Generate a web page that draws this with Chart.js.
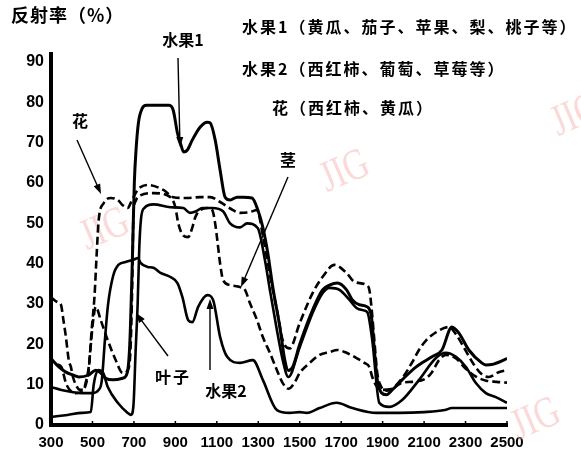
<!DOCTYPE html>
<html>
<head>
<meta charset="utf-8">
<script src="https://cdn.jsdelivr.net/npm/chart.js@4/dist/chart.umd.min.js"></script>
<style>
  html, body { margin: 0; padding: 0; background: #fff; }
  #chart { display: block; }
</style>
</head>
<body>
<canvas id="chart" width="581" height="455"></canvas>
<script>
// wavelength (nm) / reflectance (%), one pair per curve
const fruit1Nm  = [300, 338, 372, 405, 434, 482, 516, 540, 564, 598, 646, 668, 680, 692, 702, 710, 722, 740, 760, 870, 890, 910, 924, 940, 958, 982, 1020, 1054, 1068, 1092, 1116, 1140, 1164, 1198, 1226, 1270, 1298, 1322, 1346, 1370, 1404, 1428, 1445, 1466, 1500, 1562, 1610, 1644, 1682, 1726, 1754, 1788, 1826, 1846, 1860, 1874, 1894, 1918, 1946, 1994, 2062, 2138, 2186, 2234, 2268, 2316, 2378, 2398, 2426, 2484, 2500];
const fruit1Pct = [16.5, 14.4, 13.1, 12.4, 11.9, 12.4, 13.6, 12.9, 11.6, 11.2, 11.6, 13, 20, 40, 60, 68, 75, 78.5, 79.3, 79.3, 78, 72.4, 70, 67.7, 68.2, 70.7, 73.9, 75.1, 74.9, 70.7, 63.2, 56.5, 55.8, 56.5, 56.5, 56.3, 53.3, 49, 42.6, 34.2, 24.3, 16.1, 13.5, 14.4, 20, 28.5, 33.5, 34.7, 35.2, 33.5, 31, 29.8, 29.3, 26.8, 18.6, 11.2, 8, 7.5, 8.7, 11.2, 14.4, 16.9, 18.6, 24.3, 22.8, 18.6, 15.4, 14.9, 15, 16.1, 16.5];

const fruit2Nm  = [300, 350, 400, 450, 500, 530, 545, 560, 575, 600, 625, 660, 698, 720, 732, 766, 794, 828, 876, 910, 934, 962, 982, 1010, 1054, 1082, 1116, 1150, 1212, 1274, 1322, 1390, 1452, 1500, 1534, 1596, 1678, 1754, 1870, 1980, 2100, 2200, 2234, 2500];
const fruit2Pct = [9.4, 8.7, 8.2, 7.9, 7.9, 8.7, 11, 21, 29.8, 37, 39.7, 40.4, 41, 41.4, 40.2, 39.2, 39, 37.7, 36.7, 35.2, 31.7, 26, 25.5, 29.3, 32.2, 31, 21.8, 16.9, 15.4, 16.1, 11.2, 3.7, 3, 3.2, 3, 4.2, 5.5, 4.2, 3, 3, 3.2, 3.7, 4.2, 4.2];

const leafNm  = [300, 380, 450, 492, 506, 530, 550, 574, 622, 670, 686, 698, 708, 718, 726, 734, 750, 794, 876, 938, 970, 1000, 1030, 1078, 1130, 1164, 1212, 1246, 1298, 1332, 1356, 1390, 1418, 1445, 1500, 1562, 1610, 1644, 1692, 1740, 1774, 1802, 1826, 1850, 1884, 1932, 1994, 2076, 2157, 2205, 2254, 2302, 2350, 2398, 2446, 2500];
const leafPct = [2, 2.5, 3, 3.2, 10, 13.6, 13.1, 9.4, 5.5, 3, 2.5, 5, 18, 30, 44, 51, 53.8, 54.7, 54, 53.8, 52.6, 53, 53.8, 53.8, 53, 50, 49, 50, 48.8, 40.9, 33.5, 23.5, 16.1, 11.9, 19.3, 27.8, 32.7, 34, 33.5, 31, 29, 28.5, 28, 21, 5.5, 4.5, 6.2, 11.2, 16.6, 17.9, 16.9, 14.4, 10.4, 7.9, 6.9, 5.5];

const flowerNm  = [330, 350, 372, 390, 420, 450, 470, 482, 496, 510, 520, 530, 554, 588, 622, 646, 670, 684, 698, 718, 732, 766, 842, 890, 958, 1020, 1068, 1116, 1178, 1212, 1260, 1294, 1322, 1356, 1390, 1418, 1452, 1500, 1562, 1610, 1668, 1726, 1764, 1822, 1836, 1846, 1860, 1874, 1894, 1920, 1946, 2000, 2042, 2080, 2110, 2158, 2220, 2260, 2300, 2340, 2380, 2412, 2460, 2500];
const flowerPct = [15, 14.4, 10.4, 8.7, 7.9, 8.2, 10.4, 13.6, 23.5, 32, 42, 50.8, 55, 56.3, 55.8, 54.5, 53.8, 55, 56.5, 58.3, 59, 59.5, 58.3, 56.5, 56.3, 56.5, 56.5, 55.3, 53.3, 52.6, 52.8, 53.3, 47, 37.2, 28.5, 21, 19, 25.3, 32.7, 36.7, 39.7, 37.7, 35.5, 34.7, 33.5, 29.3, 21, 12.9, 9.4, 8.5, 9, 12, 15.5, 19, 21, 23, 24.3, 22, 18.5, 15, 12.5, 11.9, 13.1, 13.6];

const stemNm  = [300, 330, 348, 360, 372, 386, 396, 406, 420, 440, 454, 470, 482, 494, 502, 516, 540, 574, 612, 646, 670, 684, 692, 698, 708, 718, 794, 876, 900, 914, 938, 962, 982, 996, 1010, 1054, 1078, 1092, 1102, 1116, 1130, 1164, 1212, 1236, 1260, 1294, 1322, 1356, 1390, 1418, 1445, 1475, 1500, 1548, 1596, 1644, 1682, 1726, 1774, 1812, 1836, 1850, 1874, 1898, 1946, 1994, 2042, 2110, 2138, 2172, 2205, 2254, 2300, 2350, 2400, 2450, 2500];
const stemPct = [31.7, 30.5, 29.8, 26, 21.8, 16, 14.4, 11.9, 10, 8.7, 8.7, 11, 14.4, 21, 25.3, 29.3, 26, 21, 16.1, 12.9, 13.6, 19.3, 35, 52.5, 55.5, 56.5, 57.5, 56.5, 54, 50, 47, 46.6, 49, 51.5, 52.8, 53.8, 53.3, 50, 46, 40, 36, 34.7, 34.2, 33.5, 30.2, 26, 21.8, 17.9, 13.6, 10.4, 9, 10.5, 12.9, 15.4, 17.4, 18.1, 18.6, 17.9, 16.6, 15.4, 14.4, 11.9, 9.4, 8.7, 9, 10.5, 10.7, 11.6, 13.1, 16.1, 17.4, 16.5, 14, 12, 11, 10.7, 10.5];

const xTicks = [300, 500, 700, 900, 1100, 1300, 1500, 1700, 1900, 2100, 2300, 2500];
const yTicks = [0, 10, 20, 30, 40, 50, 60, 70, 80, 90];
const xMin = 300, xMax = 2500;
const yMin = 0, yMax = 92;

const legendLines = ['水果1（黄瓜、茄子、苹果、梨、桃子等）', '水果2（西红柿、葡萄、草莓等）', '花（西红柿、黄瓜）'];

const cjk = '"Noto Sans CJK SC", "Noto Sans", sans-serif';
const num = '"Liberation Sans", Arial, sans-serif';

function pairs(xs, ys) {
    return xs.map((x, i) => ({ x: x, y: ys[i] }));
}

function series(label, xs, ys, width, dash) {
    return {
        label: label,
        data: pairs(xs, ys),
        borderColor: '#000',
        borderWidth: width,
        borderDash: dash,
        pointRadius: 0,
        fill: false,
        cubicInterpolationMode: 'monotone',
    };
}

function arrow(ctx, x1, y1, x2, y2) {
    let a = Math.atan2(y2 - y1, x2 - x1);
    ctx.beginPath();
    ctx.moveTo(x1, y1);
    ctx.lineTo(x2 - 6 * Math.cos(a), y2 - 6 * Math.sin(a));
    ctx.lineWidth = 1.4;
    ctx.stroke();
    ctx.beginPath();
    ctx.moveTo(x2, y2);
    ctx.lineTo(x2 - 10 * Math.cos(a) + 3.5 * Math.sin(a), y2 - 10 * Math.sin(a) - 3.5 * Math.cos(a));
    ctx.lineTo(x2 - 10 * Math.cos(a) - 3.5 * Math.sin(a), y2 - 10 * Math.sin(a) + 3.5 * Math.cos(a));
    ctx.closePath();
    ctx.fill();
}

const watermark = {
    id: 'watermark',
    beforeDatasetsDraw(chart) {
        let ctx = chart.ctx;
        let spots = [[105, 230], [345, 172], [576, 116], [536, 420]];
        ctx.save();
        ctx.fillStyle = 'rgba(246, 170, 170, 0.45)';
        ctx.font = '40px "Liberation Serif", "DejaVu Serif", serif';
        ctx.textAlign = 'center';
        ctx.textBaseline = 'middle';
        spots.forEach(p => {
            ctx.save();
            ctx.translate(p[0], p[1]);
            ctx.rotate(-0.4);
            ctx.scale(0.85, 1.1);
            ctx.fillText('JIG', 0, 0);
            ctx.restore();
        });
        ctx.restore();
    }
};

const labels = {
    id: 'labels',
    afterDraw(chart) {
        let ctx = chart.ctx;
        let x = chart.scales.x;
        let bottom = chart.chartArea.bottom;
        ctx.save();
        ctx.fillStyle = '#000';
        ctx.strokeStyle = '#000';

        // little inward ticks on the x axis
        ctx.lineWidth = 1.5;
        x.ticks.forEach(t => {
            let px = x.getPixelForValue(t.value);
            ctx.beginPath();
            ctx.moveTo(px, bottom);
            ctx.lineTo(px, bottom - 4);
            ctx.stroke();
        });

        ctx.textBaseline = 'middle';
        ctx.textAlign = 'left';
        ctx.font = 'bold 18px ' + cjk;
        ctx.letterSpacing = '1px';
        ctx.fillText('反射率（%）', 11, 15);

        ctx.font = 'bold 16px ' + cjk;
        ctx.letterSpacing = '2px';
        ctx.fillText(legendLines[0], 242, 27);
        ctx.fillText(legendLines[1], 242, 69);
        ctx.fillText(legendLines[2], 272, 108);

        ctx.letterSpacing = '0px';
        ctx.textAlign = 'center';
        ctx.fillText('水果1', 183, 40);
        ctx.fillText('花', 80, 121);
        ctx.fillText('茎', 288, 160);
        ctx.letterSpacing = '2px';
        ctx.fillText('叶子', 173, 377);
        ctx.letterSpacing = '0px';
        ctx.fillText('水果2', 226, 391);

        arrow(ctx, 178, 58, 180, 147);
        arrow(ctx, 77, 140, 101, 194);
        arrow(ctx, 288, 177, 241, 287);
        arrow(ctx, 168, 356, 136, 313);
        arrow(ctx, 210, 370, 210, 299);
        ctx.restore();
    }
};

let ctx = document.getElementById('chart').getContext('2d');
let chart = new Chart(ctx, {
    type: 'line',
    data: {
        datasets: [
            series('水果1', fruit1Nm, fruit1Pct, 3, []),
            series('水果2', fruit2Nm, fruit2Pct, 2.6, []),
            series('叶子', leafNm, leafPct, 2.6, []),
            series('花', flowerNm, flowerPct, 2.6, [8, 4]),
            series('茎', stemNm, stemPct, 2.6, [8, 4]),
        ],
    },
    options: {
        responsive: false,
        animation: false,
        layout: {
            padding: { top: 54, right: 74, left: 0, bottom: 0 },
        },
        plugins: {
            legend: { display: false },
            tooltip: { enabled: false },
        },
        scales: {
            x: {
                type: 'linear',
                min: xMin,
                max: xMax,
                ticks: {
                    autoSkip: false,
                    maxRotation: 0,
                    padding: 9,
                    color: '#000',
                    font: { family: num, size: 15, weight: 'bold' },
                    callback: v => String(v),
                },
                grid: { display: false, drawTicks: false },
                border: { color: '#000', width: 4 },
                afterFit: s => { s.height = 30; },
                afterBuildTicks: s => { s.ticks = xTicks.map(v => ({ value: v })); },
            },
            y: {
                min: yMin,
                max: yMax,
                ticks: {
                    padding: 7,
                    color: '#000',
                    font: { family: num, size: 16, weight: 'bold' },
                    callback: v => String(v),
                },
                grid: { display: false, drawTicks: false },
                border: { color: '#000', width: 4 },
                afterFit: s => { s.width = 51; },
                afterBuildTicks: s => { s.ticks = yTicks.map(v => ({ value: v })); },
            },
        },
    },
    plugins: [watermark, labels],
});
</script>
</body>
</html>
